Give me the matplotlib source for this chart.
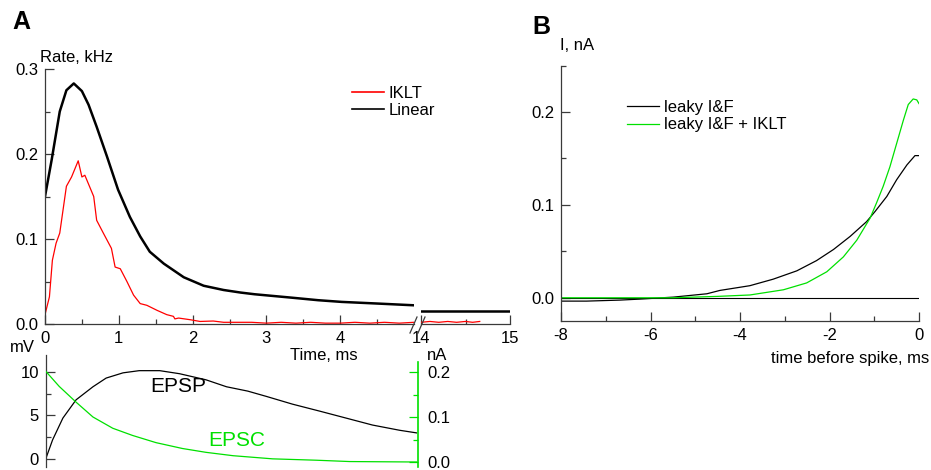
import matplotlib
matplotlib.use("Agg")
import matplotlib.pyplot as plt
from matplotlib.lines import Line2D
import numpy as np

plt.rcParams["font.family"] = ["Liberation Sans", "DejaVu Sans"]
plt.rcParams["font.size"] = 12
plt.rcParams["axes.unicode_minus"] = False

W, H = 931, 470

# ---- panel A, rate vs time (main segment 0..5 ms) ----
t_lin = [0.0, 0.09, 0.20, 0.29, 0.39, 0.50, 0.59, 0.70, 0.84, 0.99, 1.15, 1.29,
         1.42, 1.61, 1.88, 2.15, 2.42, 2.65, 2.84, 3.34, 3.7, 4.02, 4.52, 5.0]
r_lin = [0.150, 0.193, 0.250, 0.275, 0.283, 0.274, 0.258, 0.232, 0.197, 0.158,
         0.126, 0.103, 0.085, 0.071, 0.055, 0.045, 0.040, 0.037, 0.035, 0.031,
         0.028, 0.026, 0.024, 0.022]
t_iklt = [0.0, 0.06, 0.10, 0.15, 0.20, 0.29, 0.36, 0.45, 0.50, 0.54, 0.66, 0.70,
          0.79, 0.90, 0.95, 1.02, 1.11, 1.20, 1.29, 1.38, 1.52, 1.65, 1.74, 1.76,
          1.81, 1.97, 2.10, 2.28, 2.42, 2.6, 2.8, 3.0, 3.2, 3.4, 3.6, 3.8, 4.0,
          4.2, 4.4, 4.6, 4.8, 5.0]
r_iklt = [0.011, 0.032, 0.075, 0.095, 0.107, 0.162, 0.173, 0.192, 0.173, 0.175,
          0.150, 0.122, 0.107, 0.089, 0.067, 0.065, 0.050, 0.034, 0.024, 0.022,
          0.016, 0.011, 0.009, 0.006, 0.007, 0.005, 0.003, 0.0035, 0.002, 0.002,
          0.002, 0.001, 0.002, 0.001, 0.002, 0.001, 0.001, 0.002, 0.001, 0.002,
          0.001, 0.002]
# segment after the axis break
t_lin2 = [14.0, 15.0]
r_lin2 = [0.015, 0.015]
t_iklt2 = [14.0, 14.1, 14.2, 14.3, 14.4, 14.5, 14.58, 14.66]
r_iklt2 = [0.002, 0.003, 0.002, 0.003, 0.002, 0.003, 0.002, 0.003]

# ---- panel A, EPSP / EPSC ----
t_psp = [0.0, 0.09, 0.23, 0.41, 0.64, 0.82, 1.05, 1.27, 1.55, 1.82, 2.18, 2.46,
         2.75, 3.0, 3.36, 3.73, 4.09, 4.45, 4.82, 5.05]
epsp = [0.1, 2.2, 4.7, 6.8, 8.3, 9.3, 9.9, 10.15, 10.15, 9.8, 9.1, 8.3, 7.8, 7.2,
        6.3, 5.5, 4.7, 3.9, 3.3, 3.0]
t_psc = [0.0, 0.18, 0.41, 0.64, 0.91, 1.18, 1.5, 1.86, 2.18, 2.55, 3.09, 3.68,
         4.14, 5.05]
epsc = [0.201, 0.168, 0.133, 0.100, 0.075, 0.059, 0.043, 0.030, 0.0215, 0.014,
        0.007, 0.004, 0.001, 0.0]

# ---- panel B, spike-triggered current ----
t_lif = [-8.0, -7.43, -6.68, -6.23, -5.49, -4.74, -4.45, -3.78, -3.26, -2.73,
         -2.29, -1.91, -1.54, -1.17, -0.98, -0.72, -0.50, -0.27, -0.09, 0.0]
i_lif = [-0.0036, -0.0036, -0.0025, -0.0014, 0.0007, 0.0043, 0.0079, 0.013,
         0.020, 0.029, 0.040, 0.052, 0.066, 0.082, 0.093, 0.109, 0.127, 0.143,
         0.153, 0.153]
t_klt = [-8.0, -5.5, -4.5, -3.78, -3.03, -2.51, -2.06, -1.69, -1.39, -1.09,
         -0.95, -0.80, -0.65, -0.50, -0.35, -0.24, -0.13, -0.05, 0.0]
i_klt = [0.0, 0.0, 0.0015, 0.003, 0.0086, 0.016, 0.028, 0.044, 0.062, 0.086,
         0.102, 0.120, 0.141, 0.166, 0.191, 0.208, 0.214, 0.213, 0.209]

SPINE = "#3a3a3a"
GREEN = "#00e000"


def box(x0, y0, x1, y1):
    """pixel box (top-left origin) -> figure-fraction rect"""
    return [x0 / W, 1 - y1 / H, (x1 - x0) / W, (y1 - y0) / H]


def px(x, y):
    return x / W, 1 - y / H


def style(ax, left=True, bottom=True):
    for s in ("top", "right", "left", "bottom"):
        ax.spines[s].set_visible(False)
    if left:
        ax.spines["left"].set_visible(True)
    if bottom:
        ax.spines["bottom"].set_visible(True)
    for s in ax.spines.values():
        s.set_color(SPINE)
        s.set_linewidth(0.9)
    ax.tick_params(which="both", direction="in", color=SPINE, width=0.9,
                   labelsize=12, pad=5)
    ax.tick_params(which="major", length=6.5)
    ax.tick_params(which="minor", length=3.5)
    ax.patch.set_visible(False)


fig = plt.figure(figsize=(W / 100, H / 100), dpi=100)

# upper A, main segment
ax1 = fig.add_axes(box(45, 69, 414, 324))
style(ax1)
ax1.plot(t_iklt, r_iklt, color="red", lw=0.9, label="IKLT")
ax1.plot(t_lin, r_lin, color="black", lw=1.8, label="Linear")
ax1.set_xlim(0, 5.0)
ax1.set_ylim(0, 0.3)
ax1.set_xticks([0, 1, 2, 3, 4])
ax1.set_xticks(np.arange(0.5, 5.0, 0.5), minor=True)
ax1.set_yticks([0.0, 0.1, 0.2, 0.3])
ax1.set_yticks([0.05, 0.15, 0.25], minor=True)
ax1.set_yticklabels(["0.0", "0.1", "0.2", "0.3"])
ax1.legend(loc="upper left", bbox_to_anchor=((352 - 45) / 369, 0.934),
           frameon=False, handlelength=1.9, handletextpad=0.3,
           borderaxespad=0, borderpad=0, labelspacing=0.15, fontsize=12)
for ln in ax1.get_legend().get_lines():
    ln.set_linewidth(1.2)

# upper A, after the break
ax2 = fig.add_axes(box(421, 69, 510, 324))
style(ax2, left=False)
ax2.plot(t_iklt2, r_iklt2, color="red", lw=0.9)
ax2.plot(t_lin2, r_lin2, color="black", lw=1.8)
ax2.set_xlim(14, 15)
ax2.set_ylim(0, 0.3)
ax2.set_xticks([14, 15])
ax2.set_xticks([14.5], minor=True)
ax2.set_yticks([])

# break marks
for x0 in (410, 418):
    fig.add_artist(Line2D([x0 / W, (x0 + 7) / W], [1 - 333 / H, 1 - 317 / H],
                          color=SPINE, lw=0.9))

fig.text(*px(40, 57), "Rate, kHz", ha="left", va="center", fontsize=12)
fig.text(*px(358, 355), "Time, ms", ha="right", va="center", fontsize=12)
fig.text(*px(12, 22), "A", ha="left", va="center", fontsize=18,
         fontweight="bold")

# lower A, EPSP (left axis) and EPSC (right axis)
ax3 = fig.add_axes(box(46, 355, 418, 467))
style(ax3, bottom=False)
ax3.plot(t_psp, epsp, color="black", lw=0.9)
ax3.set_xlim(0, 5.07)
ax3.set_ylim(-0.92, 11.95)
ax3.set_xticks([])
ax3.set_yticks([0, 5, 10])
ax3.set_yticks([2.5, 7.5], minor=True)

ax4 = ax3.twinx()
style(ax4, left=False, bottom=False)
ax4.spines["right"].set_visible(True)
ax4.spines["right"].set_color(GREEN)
ax4.spines["right"].set_linewidth(1.2)
ax4.plot(t_psc, epsc, color=GREEN, lw=0.9)
ax4.set_ylim(-0.0111, 0.2378)
ax4.spines["right"].set_bounds(-0.0111, 0.2222)
ax4.set_yticks([0.0, 0.1, 0.2])
ax4.set_yticks([0.05, 0.15], minor=True)
ax4.set_yticklabels(["0.0", "0.1", "0.2"])
ax4.tick_params(which="both", color=GREEN, pad=7)
ax4.set_xlim(0, 5.07)

fig.text(*px(10, 348), "mV", ha="left", va="center", fontsize=12)
fig.text(*px(427, 355), "nA", ha="left", va="center", fontsize=12)
fig.text(*px(150, 387), "EPSP", ha="left", va="center", fontsize=15)
fig.text(*px(208, 440), "EPSC", ha="left", va="center", fontsize=15,
         color=GREEN)

# panel B
ax5 = fig.add_axes(box(561, 65.5, 919, 321))
style(ax5)
ax5.axhline(0, color="black", lw=0.8)
ax5.plot(t_lif, i_lif, color="black", lw=0.9, label="leaky I&F")
ax5.plot(t_klt, i_klt, color=GREEN, lw=0.9, label="leaky I&F + IKLT")
ax5.set_xlim(-8, 0)
ax5.set_ylim(-0.025, 0.25)
ax5.set_xticks([-8, -6, -4, -2, 0])
ax5.set_xticks([-7, -5, -3, -1], minor=True)
ax5.set_yticks([0.0, 0.1, 0.2])
ax5.set_yticks([0.05, 0.15, 0.25], minor=True)
ax5.set_yticklabels(["0.0", "0.1", "0.2"])
ax5.legend(loc="upper left", bbox_to_anchor=((627 - 561) / 358, 0.865),
           frameon=False, handlelength=1.9, handletextpad=0.3,
           borderaxespad=0, borderpad=0, labelspacing=0.15, fontsize=12)

fig.text(*px(560, 45), "I, nA", ha="left", va="center", fontsize=12)
fig.text(*px(929, 358), "time before spike, ms", ha="right", va="center",
         fontsize=12)
fig.text(*px(532, 27), "B", ha="left", va="center", fontsize=18,
         fontweight="bold")

fig.savefig("out.png", dpi=100, facecolor="white")
